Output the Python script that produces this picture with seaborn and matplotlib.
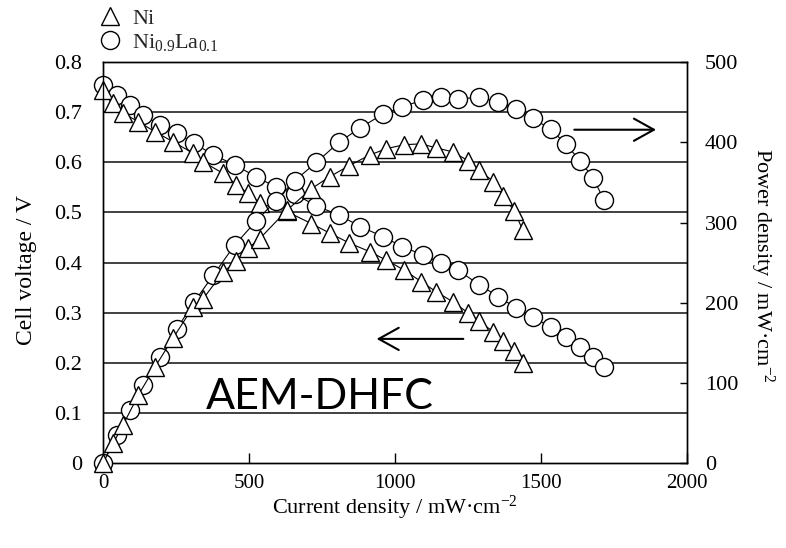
import matplotlib
matplotlib.use("Agg")
import matplotlib.pyplot as plt
import pandas as pd
import seaborn as sns
from matplotlib.lines import Line2D

# Ni anode: current density, cell voltage, power density
ni_current = [0, 35, 69, 121, 178, 240, 309, 343, 411, 457, 497, 537, 629, 713,
              776, 844, 913, 970, 1032, 1090, 1141, 1198, 1250, 1289, 1337, 1371,
              1409, 1437]
ni_voltage = [0.745, 0.718, 0.698, 0.681, 0.661, 0.641, 0.618, 0.601, 0.578, 0.555,
              0.538, 0.518, 0.502, 0.478, 0.459, 0.439, 0.422, 0.405, 0.385, 0.362,
              0.342, 0.322, 0.300, 0.283, 0.262, 0.243, 0.223, 0.199]
ni_power = [0, 25, 48, 85, 120, 156, 195, 205, 238, 252, 268, 280, 315, 342, 357,
            371, 384, 392, 397, 398, 393, 388, 377, 365, 351, 333, 314, 291]

# Ni0.9La0.1 anode
nila_current = [0, 47, 92, 138, 195, 252, 312, 377, 451, 525, 591, 656, 731, 808,
                881, 958, 1025, 1097, 1158, 1215, 1289, 1354, 1414, 1471, 1534,
                1584, 1634, 1679, 1716]
nila_voltage = [0.754, 0.734, 0.714, 0.694, 0.675, 0.658, 0.638, 0.615, 0.595, 0.571,
                0.551, 0.537, 0.513, 0.495, 0.472, 0.452, 0.432, 0.415, 0.399, 0.385,
                0.356, 0.332, 0.310, 0.292, 0.271, 0.252, 0.232, 0.212, 0.191]
nila_power = [0, 35, 66, 98, 132, 167, 201, 234, 272, 302, 327, 352, 375, 400, 418,
              435, 444, 453, 456, 454, 456, 450, 441, 430, 416, 398, 377, 355, 328]

x_ticks = [0, 500, 1000, 1500, 2000]
v_ticks = [0, 0.1, 0.2, 0.3, 0.4, 0.5, 0.6, 0.7, 0.8]
v_tick_labels = ["0", "0.1", "0.2", "0.3", "0.4", "0.5", "0.6", "0.7", "0.8"]
p_ticks = [0, 100, 200, 300, 400, 500]

sns.set_theme(style="white")
plt.rcParams["font.family"] = ["Liberation Serif", "DejaVu Serif"]
plt.rcParams["mathtext.fontset"] = "custom"
plt.rcParams["mathtext.rm"] = "Liberation Serif"
plt.rcParams["mathtext.it"] = "Liberation Serif:italic"

ni = pd.DataFrame({"current": ni_current, "voltage": ni_voltage, "power": ni_power})
nila = pd.DataFrame({"current": nila_current, "voltage": nila_voltage, "power": nila_power})

W, H = 786, 548
fig = plt.figure(figsize=(W / 100, H / 100), dpi=100)
ax = fig.add_axes([103 / W, 84.7 / H, 584 / W, 401.3 / H])
ax2 = ax.twinx()

circle_kw = dict(marker="o", markersize=13, markerfacecolor="white",
                 markeredgecolor="black", markeredgewidth=1.0, color="black",
                 linewidth=0.8, clip_on=False)
tri_kw = dict(marker="^", markersize=13, markerfacecolor="white",
              markeredgecolor="black", markeredgewidth=1.0, color="black",
              linewidth=0.8, clip_on=False)

# voltage curves on the left axis
sns.lineplot(data=nila, x="current", y="voltage", ax=ax, zorder=3, **circle_kw)
sns.lineplot(data=ni, x="current", y="voltage", ax=ax, zorder=4, **tri_kw)
# power curves on the right axis
sns.lineplot(data=nila, x="current", y="power", ax=ax2, zorder=3, **circle_kw)
sns.lineplot(data=ni, x="current", y="power", ax=ax2, zorder=4, **tri_kw)

ax.set_xlim(0, 2000)
ax.set_ylim(0, 0.8)
ax2.set_ylim(0, 500)

# horizontal rules
for v in v_ticks[1:-1]:
    ax.axhline(v, color="#333333", linewidth=1.3, zorder=1)

ax.set_xticks(x_ticks)
ax.set_xticklabels([str(t) for t in x_ticks])
ax.set_yticks(v_ticks)
ax.set_yticklabels(v_tick_labels)
ax2.set_yticks(p_ticks)
ax2.set_yticklabels([str(t) for t in p_ticks])

ax.tick_params(axis="x", direction="in", length=7, width=1, pad=8,
               labelsize=15, colors="black", bottom=True)
ax.tick_params(axis="y", length=0, pad=15, labelsize=16, colors="black")
ax2.tick_params(axis="y", direction="in", length=5, width=1, pad=13,
                labelsize=16, colors="black", right=True)

for a in (ax, ax2):
    for s in a.spines.values():
        s.set_color("black")
        s.set_linewidth(1.0)
    a.grid(False)

ax.set_xlabel("Current density / mW·cm$^{-2}$", fontsize=16, color="black")
ax.xaxis.set_label_coords(0.5, -0.075)
ax.set_ylabel("Cell voltage / V", fontsize=17, color="black", va="center")
ax.yaxis.set_label_coords(-0.131, 0.482)
ax2.set_ylabel("Power density / mW·cm$^{-2}$", fontsize=16, color="black",
               rotation=270, va="center")
ax2.yaxis.set_label_coords(1.128, 0.494)

# direction arrows
arrow_style = dict(arrowstyle="->,head_length=0.72,head_width=0.4", lw=1.5,
                   color="black", shrinkA=0, shrinkB=0, mutation_scale=20)
ax.annotate("", xy=(1894, 0.665), xytext=(1614, 0.665), arrowprops=arrow_style)
ax.annotate("", xy=(937, 0.248), xytext=(1234, 0.248), arrowprops=arrow_style)

ax.text(742, 0.132, "AEM-DHFC", fontsize=31, family="Lato", color="black",
        ha="center", va="center")

# legend above the plot area
handles = [
    Line2D([], [], linestyle="none", marker="^", markersize=13,
           markerfacecolor="white", markeredgecolor="black", markeredgewidth=1.0),
    Line2D([], [], linestyle="none", marker="o", markersize=13,
           markerfacecolor="white", markeredgecolor="black", markeredgewidth=1.0),
]
fig.legend(handles, ["Ni", "Ni$_{0.9}$La$_{0.1}$"], loc="upper left",
           bbox_to_anchor=(99 / W, 1 - 8 / H), frameon=False, fontsize=16,
           handlelength=1.0, handletextpad=0.5, labelspacing=0.15,
           borderaxespad=0, borderpad=0)

fig.savefig("out.png", dpi=100)
